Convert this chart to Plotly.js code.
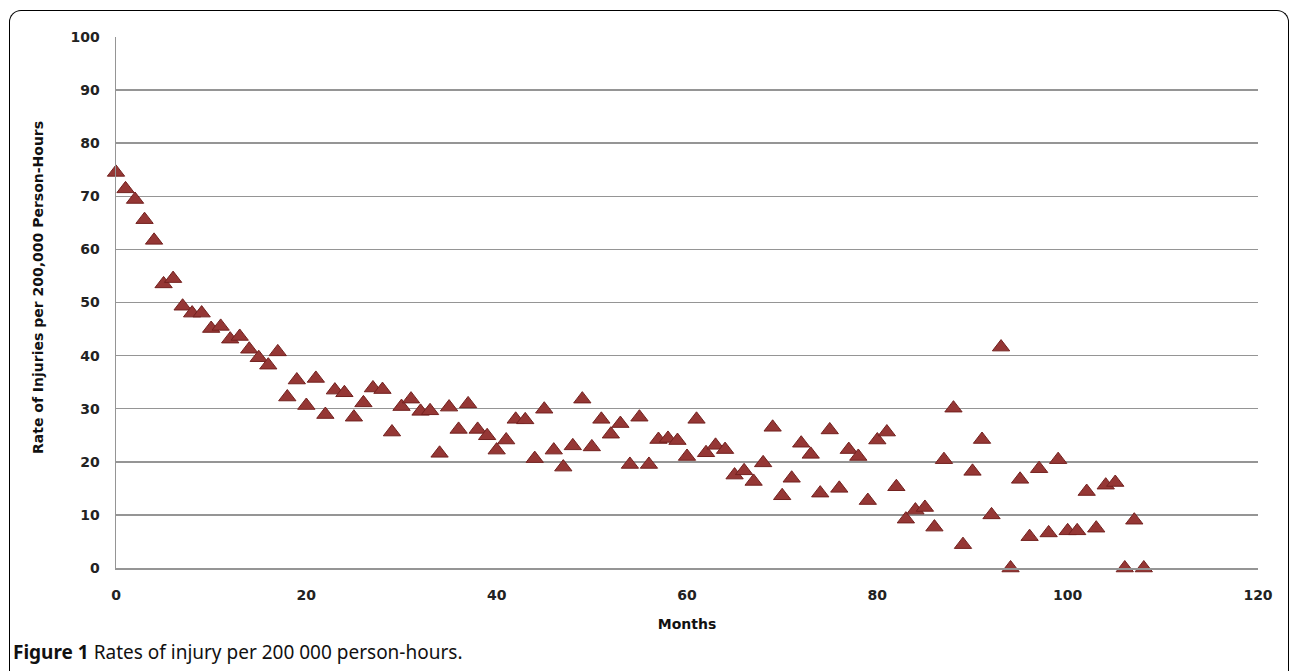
<!DOCTYPE html>
<html>
<head>
<meta charset="utf-8">
<script src="https://cdn.plot.ly/plotly-3.0.1.min.js"></script>
<style>
  html, body { margin: 0; padding: 0; background: #fff; }
  #wrap { position: relative; width: 1290px; height: 671px; overflow: hidden; }
  #chart { width: 1290px; height: 671px; }
  #frame { position: absolute; left: 9px; top: 10px; width: 1280px; height: 700px;
           border: 1.5px solid #000; border-bottom: none; border-radius: 12px 12px 0 0;
           pointer-events: none; box-sizing: border-box; }
</style>
</head>
<body>
<div id="wrap">
  <div id="chart"></div>
  <div id="frame"></div>
</div>
<script>
const months = [0,1,2,3,4,5,6,7,8,9,10,11,12,13,14,15,16,17,18,19,20,21,22,23,24,25,26,27,28,29,
  30,31,32,33,34,35,36,37,38,39,40,41,42,43,44,45,46,47,48,49,50,51,52,53,54,55,56,57,58,59,
  60,61,62,63,64,65,66,67,68,69,70,71,72,73,74,75,76,77,78,79,80,81,82,83,84,85,86,87,88,89,
  90,91,92,93,94,95,96,97,98,99,100,101,102,103,104,105,106,107,108];
const injuryRate = [74.5,71.4,69.4,65.6,61.7,53.5,54.5,49.3,48.0,48.0,45.1,45.5,43.1,43.6,41.2,39.6,38.2,40.7,32.2,35.4,
  30.6,35.7,28.9,33.5,33.0,28.4,31.1,33.9,33.6,25.6,30.4,31.8,29.5,29.6,21.6,30.3,26.1,30.9,26.1,24.9,
  22.2,24.1,28.0,27.9,20.6,29.9,22.2,19.0,23.0,31.8,22.8,28.0,25.2,27.2,19.5,28.4,19.5,24.2,24.4,24.0,
  21.0,28.0,21.7,23.1,22.3,17.5,18.3,16.3,19.8,26.5,13.6,16.9,23.5,21.4,14.1,26.0,15.0,22.3,21.0,12.7,
  24.1,25.6,15.3,9.2,10.9,11.4,7.7,20.4,30.1,4.4,18.2,24.2,10.0,41.6,0,16.7,5.9,18.7,6.6,20.4,
  7.0,7.0,14.4,7.5,15.6,16.1,0,9.0,0];
const xTicks = [0,20,40,60,80,100,120];
const yTicks = [0,10,20,30,40,50,60,70,80,90,100];

const L = 116, R = 1258, T = 37, B = 568;
const px2x = p => (p - L) / (R - L);
const px2y = p => (B - p) / (B - T);

const trace = {
  x: months, y: injuryRate, type: 'scatter', mode: 'markers', cliponaxis: false,
  marker: { symbol: 'triangle-up', size: 15, color: '#953735', line: { color: '#73211f', width: 1 } },
  hoverinfo: 'x+y'
};

const tickFont = { family: 'DejaVu Sans', size: 14, color: '#222', weight: 'bold' };

const layout = {
  width: 1290, height: 671,
  margin: { l: L, r: 1290 - R, t: T, b: 671 - B },
  paper_bgcolor: '#fff', plot_bgcolor: '#fff',
  showlegend: false,
  xaxis: {
    range: [0, 120], tickvals: xTicks, ticktext: xTicks.map(String),
    showgrid: false, zeroline: false, showline: true, linecolor: '#959595', linewidth: 1.5,
    ticks: '', ticklabelstandoff: 14, tickfont: tickFont,
    title: { text: 'Months', font: { family: 'DejaVu Sans', size: 14, color: '#111', weight: 'bold' }, standoff: 17 }
  },
  yaxis: {
    range: [0, 100], tickvals: yTicks, ticktext: yTicks.map(String),
    showgrid: true, gridcolor: '#959595', gridwidth: 1.5,
    zeroline: false, showline: true, linecolor: '#959595', linewidth: 1.5,
    ticks: '', ticklabelstandoff: 12, tickfont: tickFont
  },
  annotations: [
    { text: 'Rate of Injuries per 200,000 Person-Hours', textangle: -90,
      xref: 'paper', yref: 'paper', x: px2x(38), y: px2y(288), xanchor: 'center', yanchor: 'middle',
      showarrow: false, font: { family: 'DejaVu Sans', size: 14, color: '#111', weight: 'bold' } },
    { text: '<b>Figure 1</b> Rates of injury per 200 000 person-hours.',
      xref: 'paper', yref: 'paper', x: px2x(11), y: px2y(652), xanchor: 'left', yanchor: 'middle',
      showarrow: false, font: { family: 'Noto Sans', size: 19, color: '#111' } }
  ]
};

Plotly.newPlot('chart', [trace], layout, { displayModeBar: false, staticPlot: true });
</script>
</body>
</html>
